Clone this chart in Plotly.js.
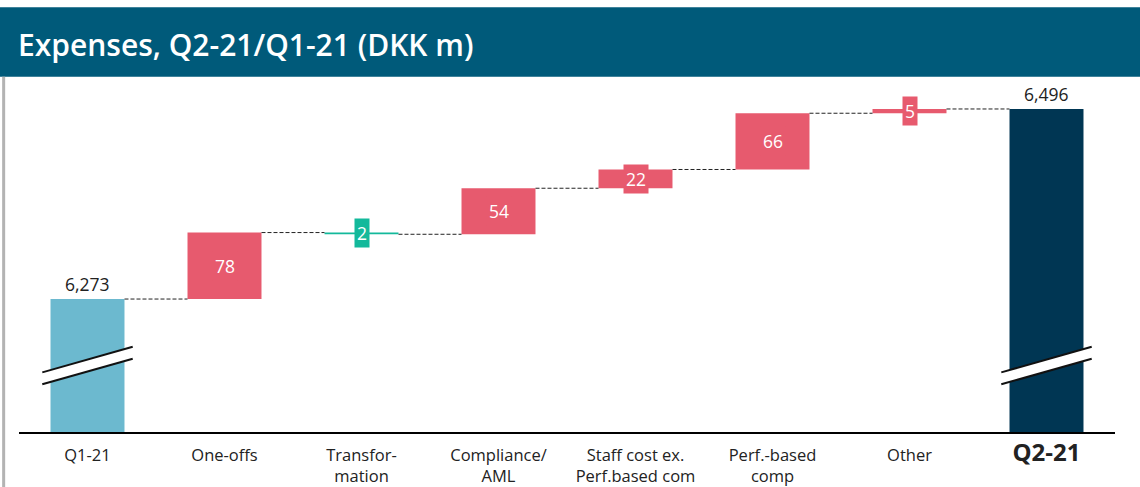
<!DOCTYPE html>
<html>
<head>
<meta charset="utf-8">
<script src="https://cdn.plot.ly/plotly-3.0.1.min.js"></script>
<style>
html,body{margin:0;padding:0;background:#fff;}
#chart{width:1140px;height:487px;}
</style>
</head>
<body>
<div id="chart"></div>
<script>
// ---- data ----
const categories = ['Q1-21','One-offs','Transfor-<br>mation','Compliance/<br>AML','Staff cost ex.<br>Perf.based com','Perf.-based<br>comp','Other','Q2-21'];
const startValue = 6273;
const deltaValues = [78, -2, 54, 22, 66, 5];
const endValue = 6496;
const startLabel = '6,273';
const endLabel = '6,496';
const deltaLabels = ['78','2','54','22','66','5'];

// ---- styles ----
const FONT = '"Open Sans", Roboto, sans-serif';
const C_START = '#6cb9cf', C_END = '#003653', C_UP = '#e75a6e', C_DOWN = '#13b99b';
const BAR_W = 0.54;
const Y_MIN = 6117, Y_MAX = 6530;

const n = categories.length;
const xs = categories.map((_, i) => i);

// cumulative levels
const levels = [startValue];
deltaValues.forEach(d => levels.push(levels[levels.length - 1] + d));

const deltaX = deltaValues.map((_, i) => i + 1);
const deltaBase = deltaValues.map((d, i) => d >= 0 ? levels[i] : levels[i] + d);
const deltaH = deltaValues.map(d => Math.abs(d));
const deltaCol = deltaValues.map(d => d >= 0 ? C_UP : C_DOWN);

const traces = [
  {type:'bar', x:[0, n-1], y:[startValue, endValue], marker:{color:[C_START, C_END]},
   width:BAR_W, hoverinfo:'skip', showlegend:false},
  {type:'bar', x:deltaX, y:deltaH, base:deltaBase, marker:{color:deltaCol},
   width:BAR_W, hoverinfo:'skip', showlegend:false}
];

const annotations = [];
annotations.push({x:0, y:startValue, text:startLabel, showarrow:false, yanchor:'bottom', yshift:1,
  font:{family:FONT, size:17.5, color:'#222'}});
annotations.push({x:n-1, y:endValue, text:endLabel, showarrow:false, yanchor:'bottom', yshift:1,
  font:{family:FONT, size:17.5, color:'#222'}});
deltaValues.forEach((d, i) => {
  annotations.push({x:i+1, y:deltaBase[i] + deltaH[i]/2, text:deltaLabels[i], showarrow:false,
    bgcolor:deltaCol[i], borderpad:2, font:{family:FONT, size:17.5, color:'#fff'}});
});

const shapes = [];
// header band
shapes.push({type:'rect', xref:'paper', yref:'paper', x0:-0.02, x1:1.03, y0:1.009, y1:1.207,
  fillcolor:'#005a7a', line:{width:0}, layer:'below'});
// left grey rule
shapes.push({type:'line', xref:'paper', yref:'paper', x0:-0.014, x1:-0.014, y0:-0.16, y1:1.009,
  line:{color:'#b3b3b3', width:3}});
// connectors
for (let i = 0; i < n - 1; i++) {
  shapes.push({type:'line', x0:i + BAR_W/2, x1:i + 1 - BAR_W/2, y0:levels[i], y1:levels[i],
    line:{color:'#222', width:1, dash:'4px,2px'}});
}
// axis break marks on the two total bars
[0, n-1].forEach(i => {
  const xl = i - 0.33, xr = i + 0.33;
  const a1 = Y_MIN + 70, b1 = Y_MIN + 100, a2 = Y_MIN + 56, b2 = Y_MIN + 86;
  shapes.push({type:'path', path:`M ${xl},${a1} L ${xr},${b1} L ${xr},${b2} L ${xl},${a2} Z`,
    fillcolor:'#fff', line:{width:0}});
  shapes.push({type:'line', x0:xl, x1:xr, y0:a1, y1:b1, line:{color:'#111', width:2}});
  shapes.push({type:'line', x0:xl, x1:xr, y0:a2, y1:b2, line:{color:'#111', width:2}});
});

const tickText = categories.map((c, i) => i === n - 1 ? '<b><span style="font-size:24px">' + c + '</span></b>' : c);

const layout = {
  width:1140, height:487,
  margin:{l:18.5, r:24.5, t:80, b:55},
  paper_bgcolor:'#fff', plot_bgcolor:'#fff',
  title:{text:'Expenses, Q2-21/Q1-21 (DKK m)', x:18/1140, xanchor:'left', y:1 - 45/487, yanchor:'middle',
    font:{family:FONT, size:30, color:'#fff', weight:600}},
  xaxis:{range:[-0.5, n - 0.5], tickvals:xs, ticktext:tickText, showgrid:false, zeroline:false,
    showline:true, linecolor:'#000', linewidth:2, ticks:'', fixedrange:true, ticklabelstandoff:7,
    tickfont:{family:FONT, size:16.5, color:'#222'}},
  yaxis:{range:[Y_MIN, Y_MAX], visible:false, showgrid:false, zeroline:false, fixedrange:true},
  barmode:'overlay',
  shapes:shapes,
  annotations:annotations,
  showlegend:false
};

Plotly.newPlot('chart', traces, layout, {staticPlot:true, displayModeBar:false});
</script>
</body>
</html>
